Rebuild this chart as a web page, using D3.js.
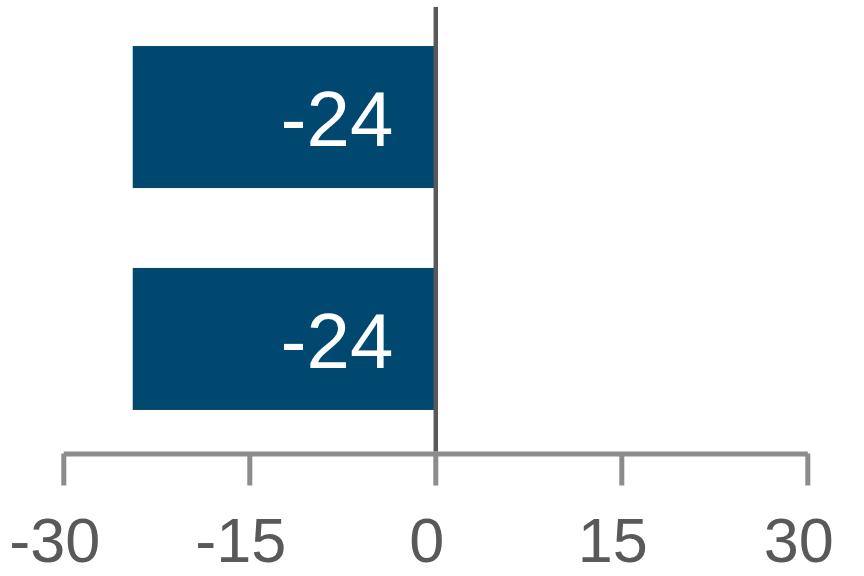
<!DOCTYPE html>
<html>
<head>
<meta charset="utf-8">
<script src="https://cdn.jsdelivr.net/npm/d3@7"></script>
<style>
  html, body { margin: 0; padding: 0; background: #fff; }
  svg { display: block; font-family: "Liberation Sans", Arial, sans-serif; }
</style>
</head>
<body>
<div id="chart"></div>
<script>
// data
const categories = ["A", "B"];
const values = [-24.4, -24.4];
const tickValues = [-30, -15, 0, 15, 30];

const width = 864, height = 576;

// plain hyphen-minus, like the original
const locale = d3.formatLocale({ decimal: ".", thousands: ",", grouping: [3], currency: ["", ""], minus: "-" });
const fmt = locale.format(".0f");

const svg = d3.select("#chart")
  .append("svg")
  .attr("width", width)
  .attr("height", height);

// scales
let x = d3.scaleLinear()
  .domain([-30, 30])
  .range([63.3, 807.3]);

let y = d3.scaleBand()
  .domain(categories)
  .range([7, 449])
  .paddingInner(0.36)
  .paddingOuter(0.176);

const axisY = 453.5;

// bars
svg.selectAll("rect.bar")
  .data(values)
  .enter()
  .append("rect")
  .attr("class", "bar")
  .attr("x", (d) => x(Math.min(d, 0)))
  .attr("y", (d, i) => y(categories[i]))
  .attr("width", (d) => Math.abs(x(d) - x(0)))
  .attr("height", y.bandwidth())
  .attr("fill", "#00486F");

// value labels
svg.selectAll("text.val")
  .data(values)
  .enter()
  .append("text")
  .attr("class", "val")
  .attr("x", x(0) - 42)
  .attr("y", (d, i) => y(categories[i]) + y.bandwidth() / 2 + 29)
  .attr("text-anchor", "end")
  .attr("fill", "#fff")
  .style("font-size", "78px")
  .text((d) => fmt(d));

// x axis
const xAxis = svg.append("g")
  .attr("transform", "translate(0," + axisY + ")")
  .call(d3.axisBottom(x).tickValues(tickValues).tickSize(32).tickSizeOuter(0).tickFormat(fmt));

xAxis.select(".domain")
  .attr("stroke", "#8C8C8C")
  .attr("stroke-width", 5);
xAxis.selectAll(".tick line")
  .attr("stroke", "#8C8C8C")
  .attr("stroke-width", 5);
xAxis.selectAll(".tick text")
  .attr("fill", "#595959")
  .attr("dy", null)
  .attr("y", 108)
  .attr("dx", -9)
  .style("font-size", "63px")
  .style("font-family", "'Liberation Sans', Arial, sans-serif");

// zero line
svg.append("line")
  .attr("x1", x(0) + 0.5)
  .attr("x2", x(0) + 0.5)
  .attr("y1", 7)
  .attr("y2", axisY - 2)
  .attr("stroke", "#595959")
  .attr("stroke-width", 4.5);
</script>
</body>
</html>
